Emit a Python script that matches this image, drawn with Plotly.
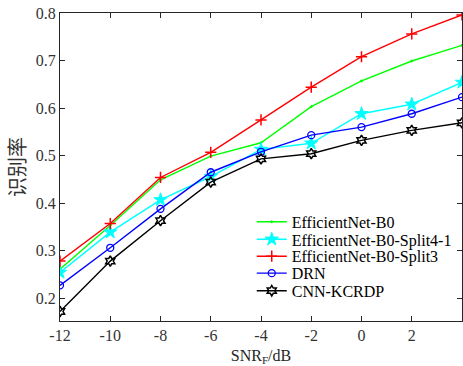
import plotly.graph_objects as go

snr = [-12, -10, -8, -6, -4, -2, 0, 2, 4]

effnet_b0 = [0.261, 0.353, 0.449, 0.499, 0.527, 0.603, 0.657, 0.699, 0.732]
effnet_split41 = [0.254, 0.339, 0.407, 0.456, 0.513, 0.526, 0.588, 0.608, 0.654]
effnet_split3 = [0.278, 0.357, 0.454, 0.507, 0.575, 0.644, 0.708, 0.756, 0.796]
drn = [0.227, 0.306, 0.388, 0.465, 0.508, 0.543, 0.560, 0.588, 0.623]
cnn_kcrdp = [0.172, 0.278, 0.363, 0.444, 0.493, 0.504, 0.532, 0.553, 0.569]

x_ticks = [-12, -10, -8, -6, -4, -2, 0, 2, 4]
y_ticks = [0.2, 0.3, 0.4, 0.5, 0.6, 0.7, 0.8]

SERIF = "Liberation Serif, Times New Roman, serif"

series = [
    ("EfficientNet-B0", effnet_b0, "#00ff00", "circle", 2, 1),
    ("EfficientNet-B0-Split4-1", effnet_split41, "#00ffff", "star", 10, 1),
    ("EfficientNet-B0-Split3", effnet_split3, "#ff0000", "cross-thin", 8, 1.5),
    ("DRN", drn, "#0000ff", "circle-open", 7, 1.3),
    ("CNN-KCRDP", cnn_kcrdp, "#000000", "hexagram-open", 8, 1.5),
]

# one legend per series so the rows can sit closely stacked
legend_ids = ["legend", "legend2", "legend3", "legend4", "legend5"]
legend_rows = [0.322, 0.265, 0.210, 0.155, 0.098]

fig = go.Figure()
for (name, vals, color, symbol, size, mlw), lid in zip(series, legend_ids):
    fig.add_trace(go.Scatter(
        x=snr, y=vals, name=name, mode="lines+markers",
        line=dict(color=color, width=1.4),
        marker=dict(symbol=symbol, size=size, color=color,
                    line=dict(color=color, width=mlw)),
        legend=lid,
    ))

axis_common = dict(
    showline=True, linecolor="#262626", linewidth=1, mirror="ticks",
    ticks="inside", ticklen=5, tickcolor="#262626",
    showgrid=False, zeroline=False,
    tickfont=dict(family=SERIF, size=16, color="#333333"),
)

fig.update_xaxes(
    range=[-12, 4], tickvals=x_ticks, ticktext=[str(t) for t in x_ticks],
    title=dict(text="SNR<sub>F</sub>/dB", font=dict(family=SERIF, size=16, color="#262626"), standoff=7),
    **axis_common,
)
fig.update_yaxes(
    range=[0.152, 0.8], tickvals=y_ticks, ticktext=[f"{t:.1f}" for t in y_ticks],
    title=dict(text="识别率", font=dict(family="Noto Sans CJK SC", size=20, color="#333333"), standoff=4),
    **axis_common,
)

legend_style = dict(
    x=0.477, xanchor="left", yanchor="middle",
    bgcolor="rgba(255,255,255,0)", borderwidth=0,
    font=dict(family=SERIF, size=16, color="#000000"),
    itemwidth=30,
)
fig.update_layout(
    width=463, height=366,
    margin=dict(l=60, r=1, t=13, b=45),
    plot_bgcolor="white", paper_bgcolor="white",
    showlegend=True,
    **{lid: dict(y=yr, **legend_style) for lid, yr in zip(legend_ids, legend_rows)},
)

fig.write_html("out.html")
